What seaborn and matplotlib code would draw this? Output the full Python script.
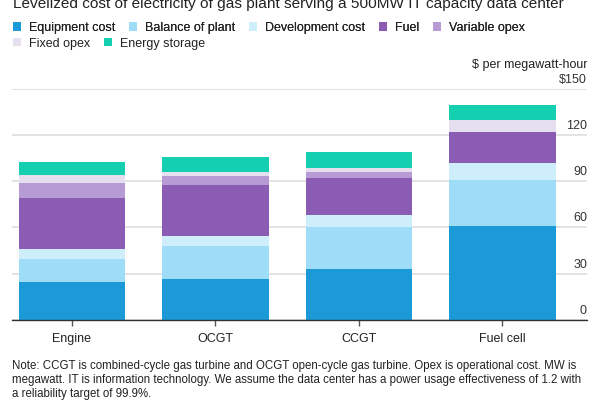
import matplotlib
matplotlib.use("Agg")
import matplotlib.pyplot as plt
import matplotlib.transforms as mtransforms
from matplotlib.patches import Patch
import numpy as np
import pandas as pd
import seaborn as sns

# ---- data ----
categories = ["Engine", "OCGT", "CCGT", "Fuel cell"]
series_names = ["Equipment cost", "Balance of plant", "Development cost", "Fuel",
                "Variable opex", "Fixed opex", "Energy storage"]
equipment_cost = [24.4, 26.3, 32.8, 61.2]
balance_of_plant = [15.0, 22.0, 27.5, 29.3]
development_cost = [6.9, 6.2, 7.8, 11.4]
fuel = [32.7, 33.2, 23.9, 20.3]
variable_opex = [9.8, 6.0, 3.7, 0.0]
fixed_opex = [5.1, 2.2, 3.0, 7.8]
energy_storage = [8.7, 9.7, 10.3, 9.2]
y_ticks = [0, 30, 60, 90, 120, 150]
y_tick_labels = ["0", "30", "60", "90", "120", "$150"]

colors = ["#1b9ad7", "#9fdcf7", "#cfeefb", "#8a5cb4", "#b69bd4", "#e5dff0", "#14cfb0"]

series = [equipment_cost, balance_of_plant, development_cost, fuel,
          variable_opex, fixed_opex, energy_storage]

sns.set_theme(style="white")
plt.rcParams["font.family"] = ["Liberation Sans", "DejaVu Sans"]

fig = plt.figure(figsize=(6, 4), dpi=100)
ax = fig.add_axes([12 / 600, 1 - 320 / 400, 575 / 600, (320 - 88.7) / 400])

# cumulative totals, drawn from top layer down so each shorter bar covers
cum = np.cumsum(np.array(series), axis=0)
for i in range(len(series) - 1, -1, -1):
    df = pd.DataFrame({"cat": categories, "val": cum[i]})
    sns.barplot(data=df, x="cat", y="val", order=categories, color=colors[i],
                saturation=1, width=0.745, ax=ax, linewidth=0, zorder=3)

ax.set_xlim(-0.418, 3.589)
ax.set_ylim(0, 150)
ax.set_xlabel("")
ax.set_ylabel("")

# gridlines
ax.set_yticks(y_ticks)
ax.yaxis.grid(True, color="#dedede", linewidth=1.2, zorder=0)
ax.set_axisbelow(True)
ax.tick_params(axis="y", left=False, right=False, labelleft=False, labelright=False)

# y tick labels inside on the right, above gridlines
offset = mtransforms.ScaledTranslation(0, 3 / 100, fig.dpi_scale_trans)
trans = mtransforms.blended_transform_factory(ax.transAxes, ax.transData) + offset
for v, lab in zip(y_ticks, y_tick_labels):
    ax.text(1.0, v, lab, transform=trans, ha="right", va="bottom",
            fontsize=9, color="#333333", zorder=5)

for s in ["top", "right", "left"]:
    ax.spines[s].set_visible(False)
ax.spines["bottom"].set_color("#333333")
ax.spines["bottom"].set_linewidth(1.0)
ax.spines["bottom"].set_zorder(6)

ax.tick_params(axis="x", bottom=True, length=4, width=1, color="#555555",
               labelsize=9, labelcolor="#222222", pad=5.5)

# title, unit label
fig.text(13 / 600, 1 - 4 / 400, "Levelized cost of electricity of gas plant serving a 500MW IT capacity data center",
         ha="left", va="center", fontsize=11.1, color="#222222")
fig.text(587 / 600, 1 - 65 / 400, "$ per megawatt-hour", ha="right", va="center",
         fontsize=9, color="#222222")

# legend (two rows)
handles = [Patch(facecolor=c, edgecolor="none") for c in colors]
leg_kw = dict(frameon=False, fontsize=9, handlelength=0.64, handleheight=0.64,
              handletextpad=0.64, columnspacing=1.1, borderpad=0, borderaxespad=0,
              loc="center left", labelcolor="#222222")
leg1 = fig.legend(handles[:5], series_names[:5], ncol=5,
                  bbox_to_anchor=(13 / 600, 1 - 28 / 400), **leg_kw)
fig.add_artist(leg1)
fig.legend(handles[5:], series_names[5:], ncol=2,
           bbox_to_anchor=(13 / 600, 1 - 43.5 / 400), **leg_kw)

# note
note = ("Note: CCGT is combined-cycle gas turbine and OCGT open-cycle gas turbine. Opex is operational cost. MW is\n"
        "megawatt. IT is information technology. We assume the data center has a power usage effectiveness of 1.2 with\n"
        "a reliability target of 99.9%.")
fig.text(12 / 600, 1 - 360 / 400, note, ha="left", va="top", fontsize=8.3,
         color="#222222", linespacing=1.22)

fig.savefig("out.png", dpi=100)
